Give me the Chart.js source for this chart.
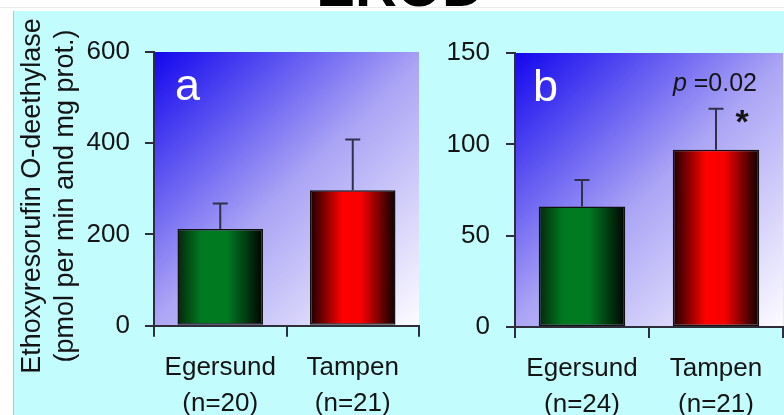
<!DOCTYPE html>
<html>
<head>
<meta charset="utf-8">
<script src="https://cdn.jsdelivr.net/npm/chart.js@4.4.1/dist/chart.umd.min.js"></script>
<style>
  html, body { margin: 0; padding: 0; background: #fff; }
  #wrap { position: relative; width: 784px; height: 415px; overflow: hidden; background: #fff; }
  #panel { position: absolute; left: 13px; top: 11px; right: 0; bottom: 0; background: #c3fcfc; border-left: 1px solid #a6d0d0; }
  #rule { position: absolute; left: 0; right: 0; top: 7px; height: 1px; background: #ececec; }
  #hdr { position: absolute; left: 0; top: 0; }
  #ca { position: absolute; left: 0; top: 0; }
  #cb { position: absolute; left: 430px; top: 0; }
</style>
</head>
<body>
<div id="wrap">
  <div id="rule"></div>
  <div id="panel"></div>
  <svg id="hdr" width="784" height="11"><text x="400" y="6" text-anchor="middle" font-family="Liberation Sans, Arial, sans-serif" font-weight="bold" font-size="58" fill="#000">EROD</text></svg>
  <canvas id="ca" width="430" height="415" style="width:430px;height:415px"></canvas>
  <canvas id="cb" width="354" height="415" style="width:354px;height:415px"></canvas>
</div>
<script>
// Sampling sites and sample sizes
const sites = ['Egersund', 'Tampen'];
const sampleSizesA = ['(n=20)', '(n=21)'];
const sampleSizesB = ['(n=24)', '(n=21)'];

// EROD activity, means and SD (upper whisker)
const meansA = [212, 297];
const errorsA = [56, 111];
const meansB = [66, 97];
const errorsB = [14.5, 22.5];

// Y axis ticks
const ticksA = [0, 200, 400, 600];
const ticksB = [0, 50, 100, 150];

const yTitle = ['Ethoxyresorufin O-deethylase', '(pmol per min and mg prot.)'];
const pText = '=0.02';

const FONT = 'Liberation Sans, Arial, Helvetica, sans-serif';
const TEXT = '#141414';
const AXIS = '#2e2e3a';
const BAR_PCT = 0.645;

const greenShade = [[0, '#06260c'], [0.28, '#007a20'], [0.58, '#007a22'], [1, '#000400']];
const redShade = [[0, '#1a0000'], [0.38, '#ff0000'], [0.6, '#f60000'], [1, '#0c0000']];
const barShades = [greenShade, redShade];

function barFill(ctx) {
  const chart = ctx.chart;
  const xs = chart.scales.x;
  const shade = barShades[ctx.dataIndex % barShades.length];
  if (!chart.chartArea || !xs) return shade[1][1];
  const cw = xs.width / chart.data.labels.length;
  const bw = cw * BAR_PCT;
  const cx = xs.getPixelForValue(ctx.dataIndex);
  const g = chart.ctx.createLinearGradient(cx - bw / 2, 0, cx + bw / 2, 0);
  shade.forEach(([o, c]) => g.addColorStop(o, c));
  return g;
}

// Diagonal blue-to-white fill behind the plot area
const plotFill = {
  id: 'plotFill',
  beforeDraw(chart) {
    const { ctx, chartArea: a } = chart;
    const g = ctx.createLinearGradient(a.left, a.top, a.right, a.bottom);
    g.addColorStop(0, '#1206ee');
    g.addColorStop(0.5, '#aaa4f5');
    g.addColorStop(1, '#fdfcff');
    ctx.save();
    ctx.fillStyle = g;
    ctx.fillRect(a.left, a.top, a.right - a.left, a.bottom - a.top);
    ctx.restore();
  }
};

// Upper SD whiskers with caps
const errorBars = {
  id: 'errorBars',
  afterDatasetsDraw(chart) {
    const { ctx } = chart;
    const y = chart.scales.y;
    const ds = chart.data.datasets[0];
    const meta = chart.getDatasetMeta(0);
    ctx.save();
    ctx.strokeStyle = '#30304a';
    ctx.lineWidth = 2;
    meta.data.forEach((bar, i) => {
      const top = y.getPixelForValue(ds.data[i] + ds.errors[i]);
      ctx.beginPath();
      ctx.moveTo(bar.x, bar.y);
      ctx.lineTo(bar.x, top);
      ctx.moveTo(bar.x - 7.5, top);
      ctx.lineTo(bar.x + 7.5, top);
      ctx.stroke();
    });
    ctx.restore();
  }
};

// Panel letter, y title, significance marks
const annotations = {
  id: 'annotations',
  afterDraw(chart, args, opts) {
    const { ctx, chartArea: a } = chart;
    ctx.save();
    ctx.fillStyle = '#ffffff';
    ctx.font = '45px ' + FONT;
    ctx.textAlign = 'left';
    ctx.textBaseline = 'alphabetic';
    ctx.fillText(opts.letter, a.left + opts.letterDx, a.top + 48);

    if (opts.yTitle) {
      ctx.fillStyle = TEXT;
      ctx.font = '27px ' + FONT;
      ctx.textAlign = 'center';
      opts.yTitle.forEach((line, k) => {
        ctx.save();
        ctx.translate(40 + k * 33, 196);
        ctx.rotate(-Math.PI / 2);
        ctx.fillText(line, 0, 0);
        ctx.restore();
      });
    }

    if (opts.pValue) {
      ctx.fillStyle = TEXT;
      ctx.textAlign = 'left';
      ctx.font = 'italic 25px ' + FONT;
      const pW = ctx.measureText('p ').width;
      ctx.font = '25px ' + FONT;
      const restW = ctx.measureText(opts.pValue).width;
      const x0 = a.right - 26 - pW - restW;
      ctx.font = 'italic 25px ' + FONT;
      ctx.fillText('p', x0, a.top + 38);
      ctx.font = '25px ' + FONT;
      ctx.fillText(opts.pValue, x0 + pW, a.top + 38);

      const ds = chart.data.datasets[0];
      const bar = chart.getDatasetMeta(0).data[1];
      const top = chart.scales.y.getPixelForValue(ds.data[1] + ds.errors[1]);
      ctx.font = 'bold 34px ' + FONT;
      ctx.textAlign = 'center';
      ctx.fillText('*', bar.x + 26, top + 24);
    }
    ctx.restore();
  }
};

function makeChart(el, cfg) {
  return new Chart(document.getElementById(el), {
    type: 'bar',
    data: {
      labels: cfg.labels,
      datasets: [{
        data: cfg.means,
        errors: cfg.errors,
        backgroundColor: barFill,
        borderColor: '#101010',
        borderWidth: 1.5,
        borderSkipped: false,
        barPercentage: BAR_PCT,
        categoryPercentage: 1
      }]
    },
    options: {
      responsive: false,
      animation: false,
      events: [],
      layout: { padding: { top: cfg.top, right: cfg.right, left: 0, bottom: 0 } },
      plugins: {
        legend: { display: false },
        tooltip: { enabled: false },
        title: { display: false },
        annotations: cfg.notes
      },
      scales: {
        x: {
          offset: true,
          grid: { offset: true, drawOnChartArea: false, tickLength: 11, color: AXIS, lineWidth: 2 },
          border: { color: AXIS, width: 2 },
          ticks: { color: TEXT, font: { family: FONT, size: 26, lineHeight: 1.38 }, padding: 13, maxRotation: 0, autoSkip: false },
          afterFit: s => { s.height = cfg.xHeight; }
        },
        y: {
          min: 0,
          max: cfg.ticks[cfg.ticks.length - 1],
          grid: { drawOnChartArea: false, tickLength: 9, color: AXIS, lineWidth: 2 },
          border: { color: AXIS, width: 2 },
          ticks: { color: TEXT, font: { family: FONT, size: 26 }, padding: cfg.tickPad },
          afterBuildTicks: s => { s.ticks = cfg.ticks.map(v => ({ value: v })); },
          afterFit: s => { s.width = cfg.yWidth; }
        }
      }
    },
    plugins: [plotFill, errorBars, annotations]
  });
}

makeChart('ca', {
  labels: sites.map((s, i) => [s, sampleSizesA[i]]),
  means: meansA, errors: errorsA, ticks: ticksA,
  top: 52, right: 11, xHeight: 89.3, yWidth: 154, tickPad: 15,
  notes: { letter: 'a', letterDx: 21, yTitle: yTitle }
});

makeChart('cb', {
  labels: sites.map((s, i) => [s, sampleSizesB[i]]),
  means: meansB, errors: errorsB, ticks: ticksB,
  top: 53, right: 1, xHeight: 88, yWidth: 85, tickPad: 16,
  notes: { letter: 'b', letterDx: 18, pValue: pText }
});
</script>
</body>
</html>
